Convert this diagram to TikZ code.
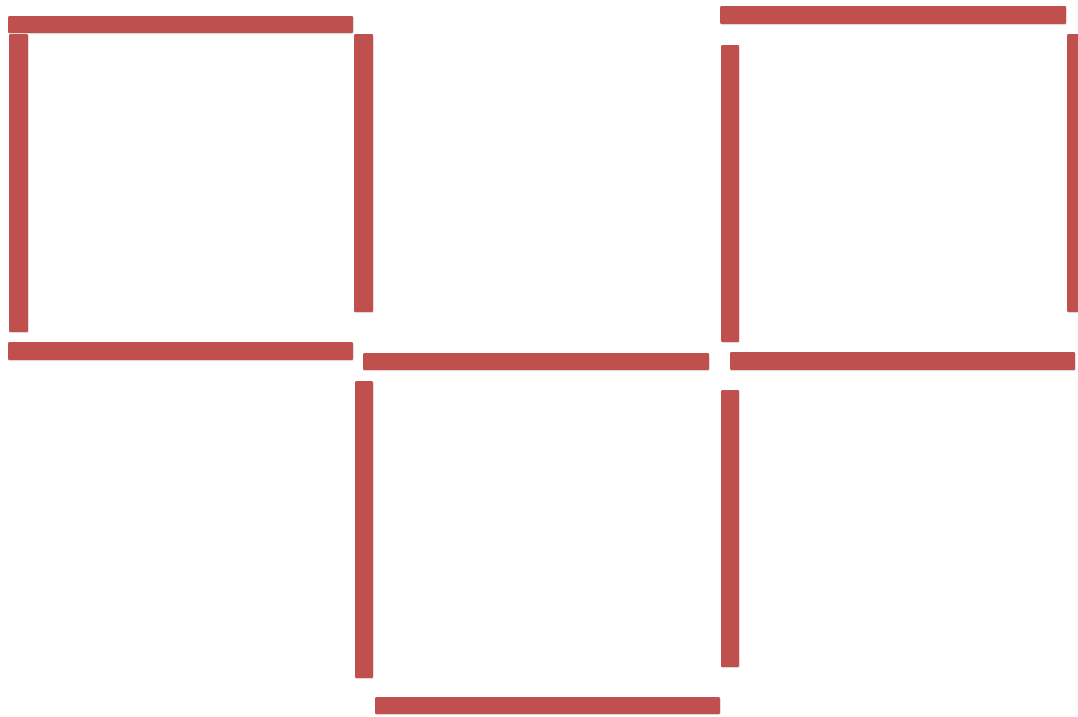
\documentclass[tikz,border=0pt]{standalone}
\usepackage{tikz}
\usetikzlibrary{shadows}
\definecolor{matchRed}{RGB}{192,80,77}
\tikzset{
  stick/.style = {fill=matchRed, rounded corners=1pt,
                  drop shadow={opacity=0.18, shadow xshift=0.6pt, shadow yshift=-1.2pt}},
}

\begin{document}
\begin{tikzpicture}[x=1pt, y=-1pt]
  \useasboundingbox (0,0) rectangle (1078,716);
  % left square
  \path[stick] (8,16) rectangle (353,33);
  \path[stick] (9,34) rectangle (28,332);
  \path[stick] (354,34) rectangle (373,312);
  \path[stick] (8,342) rectangle (353,360);
  % middle square
  \path[stick] (363,353) rectangle (709,370);
  \path[stick] (355,381) rectangle (373,678);
  \path[stick] (721,390) rectangle (739,667);
  \path[stick] (375,697) rectangle (720,714);
  % right square
  \path[stick] (720,6) rectangle (1066,24);
  \path[stick] (721,45) rectangle (739,342);
  \path[stick] (1067,34) rectangle (1080,312);
  \path[stick] (730,352) rectangle (1075,370);
\end{tikzpicture}
\end{document}
